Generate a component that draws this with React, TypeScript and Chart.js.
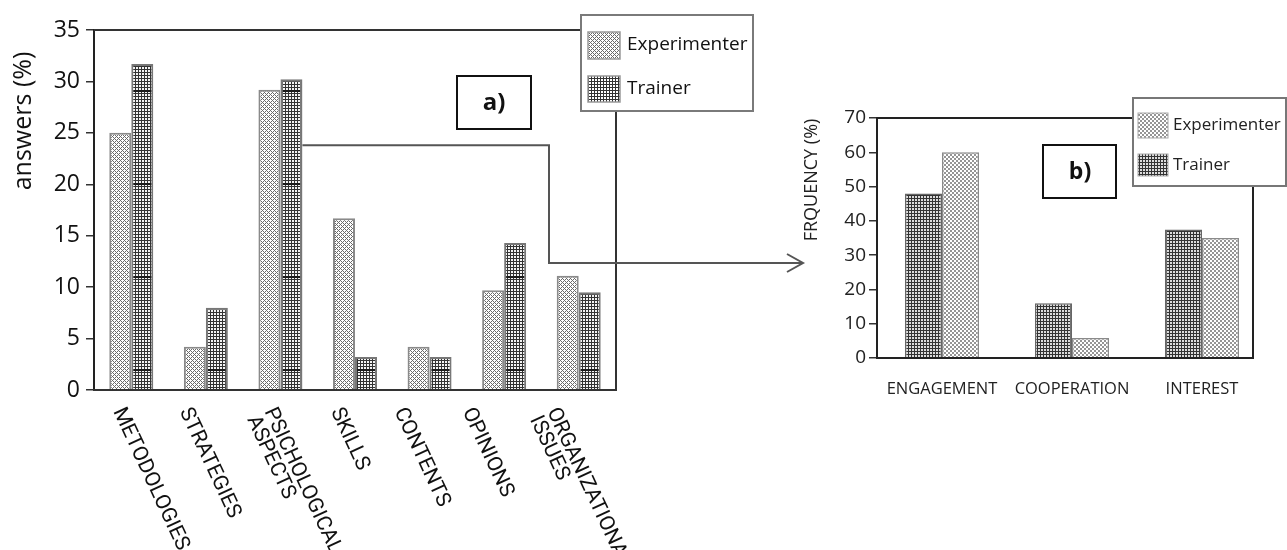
import React, { useEffect, useRef } from 'react';
import { Chart, registerables } from 'chart.js';
Chart.register(...registerables);

// ---- Chart a) data ----
const categoriesA: (string | string[])[] = [
  'METODOLOGIES',
  'STRATEGIES',
  ['PSICHOLOGICAL', 'ASPECTS'],
  'SKILLS',
  'CONTENTS',
  'OPINIONS',
  ['ORGANIZATIONAL', 'ISSUES'],
];
const experimenterA = [25, 4.2, 29.2, 16.7, 4.2, 9.7, 11.1];
const trainerA = [31.7, 8.0, 30.2, 3.2, 3.2, 14.3, 9.5];
const yMaxA = 35;
const yStepA = 5;

// ---- Chart b) data ----
const categoriesB = ['ENGAGEMENT', 'COOPERATION', 'INTEREST'];
const trainerB = [48, 16, 37.5];
const experimenterB = [60, 5.8, 35];
const yMaxB = 70;
const yStepB = 10;

const seriesNames = ['Experimenter', 'Trainer'];

const OPEN = "'Open Sans', 'Noto Sans', sans-serif";

function tile(w: number, h: number, draw: (g: CanvasRenderingContext2D) => void): CanvasPattern {
  const c = document.createElement('canvas');
  c.width = w;
  c.height = h;
  const g = c.getContext('2d')!;
  draw(g);
  return g.createPattern(c, 'repeat')!;
}

function makePatterns() {
  const expA = tile(4, 4, (g) => {
    g.fillStyle = '#ffffff';
    g.fillRect(0, 0, 4, 4);
    g.fillStyle = '#6a6a6a';
    for (let x = 0; x < 4; x++)
      for (let y = 0; y < 4; y++)
        if ((x + y) % 4 === 0 || (x - y + 4) % 4 === 0) g.fillRect(x, y, 1, 1);
  });
  const trA = tile(3, 93, (g) => {
    g.fillStyle = '#f4f4f4';
    g.fillRect(0, 0, 3, 93);
    g.fillStyle = '#333333';
    g.fillRect(0, 0, 1, 93);
    for (let y = 0; y < 93; y += 3) g.fillRect(0, y, 3, 1);
    g.fillStyle = '#1a1a1a';
    g.fillRect(0, 90, 3, 2);
  });
  const trASw = tile(3, 3, (g) => {
    g.fillStyle = '#ffffff';
    g.fillRect(0, 0, 3, 3);
    g.fillStyle = '#333';
    g.fillRect(0, 0, 1, 3);
    g.fillRect(0, 0, 3, 1);
  });
  const expB = tile(4, 4, (g) => {
    g.fillStyle = '#ffffff';
    g.fillRect(0, 0, 4, 4);
    g.fillStyle = '#959595';
    g.fillRect(0, 0, 2, 2);
    g.fillRect(2, 2, 2, 2);
  });
  const trB = tile(3, 3, (g) => {
    g.fillStyle = '#dcdcdc';
    g.fillRect(0, 0, 3, 3);
    g.fillStyle = '#333333';
    g.fillRect(0, 0, 1, 3);
    g.fillRect(0, 0, 3, 1);
  });
  return { expA, trA, trASw, expB, trB };
}

function seg(ctx: CanvasRenderingContext2D, x1: number, y1: number, x2: number, y2: number) {
  ctx.beginPath();
  ctx.moveTo(x1, y1);
  ctx.lineTo(x2, y2);
  ctx.stroke();
}

export default function App() {
  const refA = useRef<HTMLCanvasElement>(null);
  const refB = useRef<HTMLCanvasElement>(null);

  useEffect(() => {
    const P = makePatterns();

    // label nudges (layout only)
    const nudgeA = [-13.5, -21.5, -11.5, -19.5, -30.5, -37, -27];

    const pluginA = {
      id: 'decorA',
      afterDraw(chart: any) {
        const { ctx, chartArea: ca, scales } = chart;
        ctx.save();
        // frame
        ctx.strokeStyle = '#333';
        ctx.lineWidth = 2;
        seg(ctx, ca.left, ca.top, 581, ca.top);
        seg(ctx, ca.right, 111, ca.right, ca.bottom);
        seg(ctx, ca.left - 1, ca.bottom, ca.right + 1, ca.bottom);

        // y title
        ctx.save();
        ctx.translate(24, 121);
        ctx.rotate(-Math.PI / 2);
        ctx.font = `25px ${OPEN}`;
        ctx.fillStyle = '#111';
        ctx.textAlign = 'center';
        ctx.textBaseline = 'middle';
        ctx.fillText('answers (%)', 0, 0);
        ctx.restore();

        // x labels rotated
        ctx.font = "21px Roboto, 'Liberation Sans', sans-serif";
        ctx.fillStyle = '#111';
        ctx.textAlign = 'left';
        ctx.textBaseline = 'middle';
        categoriesA.forEach((lab, i) => {
          const lines = Array.isArray(lab) ? lab : [lab];
          const px = scales.x.getPixelForValue(i) + nudgeA[i];
          ctx.save();
          ctx.translate(px, 409);
          ctx.rotate((65 * Math.PI) / 180);
          lines.forEach((t, j) => ctx.fillText(t, 0, j * 19));
          ctx.restore();
        });

        // a) box
        ctx.lineWidth = 2;
        ctx.strokeStyle = '#111';
        ctx.strokeRect(457, 76, 74, 53);
        ctx.font = `bold 24px ${OPEN}`;
        ctx.textAlign = 'center';
        ctx.fillStyle = '#111';
        ctx.fillText('a)', 494, 103);

        // connector arrow
        const bar = chart.getDatasetMeta(1).data[2];
        const sx = bar.x + bar.width / 2;
        const sy = scales.y.getPixelForValue(23.8);
        ctx.strokeStyle = '#555';
        ctx.lineWidth = 2;
        ctx.beginPath();
        ctx.moveTo(sx, sy);
        ctx.lineTo(549, sy);
        ctx.lineTo(549, 263);
        ctx.lineTo(803, 263);
        ctx.stroke();
        ctx.beginPath();
        ctx.moveTo(787, 254);
        ctx.lineTo(803, 263);
        ctx.lineTo(787, 272);
        ctx.stroke();

        // legend
        ctx.fillStyle = '#fff';
        ctx.fillRect(581, 15, 172, 96);
        ctx.strokeStyle = '#7a7a7a';
        ctx.lineWidth = 2;
        ctx.strokeRect(581, 15, 172, 96);
        ctx.fillStyle = P.expA;
        ctx.fillRect(588, 32, 32, 27);
        ctx.fillStyle = P.trASw;
        ctx.fillRect(588, 76, 32, 26);
        ctx.strokeStyle = '#999';
        ctx.lineWidth = 1.5;
        ctx.strokeRect(588, 32, 32, 27);
        ctx.strokeRect(588, 76, 32, 26);
        ctx.font = `19px ${OPEN}`;
        ctx.fillStyle = '#111';
        ctx.textAlign = 'left';
        ctx.textBaseline = 'middle';
        ctx.fillText(seriesNames[0], 627, 45);
        ctx.fillText(seriesNames[1], 627, 89);
        ctx.restore();
      },
    };

    const pluginB = {
      id: 'decorB',
      afterDraw(chart: any) {
        const { ctx, chartArea: ca } = chart;
        ctx.save();
        const frameRight = 453;
        ctx.strokeStyle = '#222';
        ctx.lineWidth = 2;
        seg(ctx, ca.left, ca.top, 333, ca.top);
        seg(ctx, frameRight, 186, frameRight, ca.bottom);
        seg(ctx, ca.left - 1, ca.bottom, frameRight + 1, ca.bottom);

        // y title
        ctx.save();
        ctx.translate(12, 180);
        ctx.rotate(-Math.PI / 2);
        ctx.font = `18px ${OPEN}`;
        ctx.fillStyle = '#222';
        ctx.textAlign = 'center';
        ctx.textBaseline = 'middle';
        ctx.fillText('FRQUENCY (%)', 0, 0);
        ctx.restore();

        // b) box
        ctx.lineWidth = 2;
        ctx.strokeStyle = '#111';
        ctx.strokeRect(243, 145, 73, 53);
        ctx.font = `bold 23px ${OPEN}`;
        ctx.textAlign = 'center';
        ctx.textBaseline = 'middle';
        ctx.fillStyle = '#111';
        ctx.fillText('b)', 280, 172);

        // legend
        ctx.fillStyle = '#fff';
        ctx.fillRect(333, 98, 153, 88);
        ctx.strokeStyle = '#777';
        ctx.lineWidth = 2;
        ctx.strokeRect(333, 98, 153, 88);
        ctx.fillStyle = P.expB;
        ctx.fillRect(338, 113, 30, 25);
        ctx.fillStyle = P.trB;
        ctx.fillRect(338, 154, 30, 22);
        ctx.strokeStyle = '#aaa';
        ctx.lineWidth = 1;
        ctx.strokeRect(338, 113, 30, 25);
        ctx.strokeRect(338, 154, 30, 22);
        ctx.font = `17px ${OPEN}`;
        ctx.fillStyle = '#222';
        ctx.textAlign = 'left';
        ctx.textBaseline = 'middle';
        ctx.fillText(seriesNames[0], 373, 125);
        ctx.fillText(seriesNames[1], 373, 165);
        ctx.restore();
      },
    };

    const chartA = new Chart(refA.current!, {
      type: 'bar',
      data: {
        labels: categoriesA as any,
        datasets: [
          {
            label: seriesNames[0],
            data: experimenterA,
            backgroundColor: P.expA as any,
            borderColor: '#8a8a8a',
            borderWidth: 2,
          },
          {
            label: seriesNames[1],
            data: trainerA,
            backgroundColor: P.trA as any,
            borderColor: '#777',
            borderWidth: 2,
          },
        ],
      },
      options: {
        responsive: false,
        animation: false,
        devicePixelRatio: 1,
        layout: { padding: { top: 30, right: 204, bottom: 160, left: 0 } },
        datasets: { bar: { categoryPercentage: 0.59, barPercentage: 1.0 } },
        plugins: { legend: { display: false }, tooltip: { enabled: false } },
        scales: {
          x: { display: false },
          y: {
            min: 0,
            max: yMaxA,
            afterFit: (s: any) => {
              s.width = 94;
            },
            ticks: {
              stepSize: yStepA,
              padding: 6,
              color: '#111',
              font: { family: OPEN, size: 23 },
            },
            grid: {
              display: true,
              drawOnChartArea: false,
              drawTicks: true,
              tickLength: 8,
              color: '#333',
              lineWidth: 1.5,
            },
            border: { display: true, color: '#222', width: 2 },
          },
        },
      },
      plugins: [pluginA],
    } as any);

    const chartB = new Chart(refB.current!, {
      type: 'bar',
      data: {
        labels: categoriesB,
        datasets: [
          {
            label: seriesNames[1],
            data: trainerB,
            backgroundColor: P.trB as any,
            borderColor: '#666',
            borderWidth: 1.5,
          },
          {
            label: seriesNames[0],
            data: experimenterB,
            backgroundColor: P.expB as any,
            borderColor: '#8a8a8a',
            borderWidth: 1.5,
          },
        ],
      },
      options: {
        responsive: false,
        animation: false,
        devicePixelRatio: 1,
        layout: { padding: { top: 118, right: 20, bottom: 0, left: 0 } },
        datasets: { bar: { categoryPercentage: 0.57, barPercentage: 1.0 } },
        plugins: { legend: { display: false }, tooltip: { enabled: false } },
        scales: {
          x: {
            afterFit: (s: any) => {
              s.height = 192;
            },
            grid: { display: false, drawTicks: false },
            border: { display: false },
            ticks: {
              padding: 21,
              color: '#222',
              font: { family: OPEN, size: 16.5 },
              maxRotation: 0,
            },
          },
          y: {
            min: 0,
            max: yMaxB,
            afterFit: (s: any) => {
              s.width = 77;
            },
            ticks: {
              stepSize: yStepB,
              padding: 3,
              color: '#222',
              font: { family: OPEN, size: 19 },
            },
            grid: {
              display: true,
              drawOnChartArea: false,
              drawTicks: true,
              tickLength: 8,
              color: '#333',
              lineWidth: 1.5,
            },
            border: { display: true, color: '#222', width: 2 },
          },
        },
      },
      plugins: [pluginB],
    } as any);

    return () => {
      chartA.destroy();
      chartB.destroy();
    };
  }, []);

  return (
    <div
      style={{
        position: 'absolute',
        left: 0,
        top: 0,
        width: 1287,
        height: 550,
        background: '#fff',
        overflow: 'hidden',
      }}
    >
      <canvas
        ref={refA}
        width={820}
        height={550}
        style={{ position: 'absolute', left: 0, top: 0, width: 820, height: 550 }}
      />
      <canvas
        ref={refB}
        width={487}
        height={550}
        style={{ position: 'absolute', left: 800, top: 0, width: 487, height: 550 }}
      />
    </div>
  );
}
